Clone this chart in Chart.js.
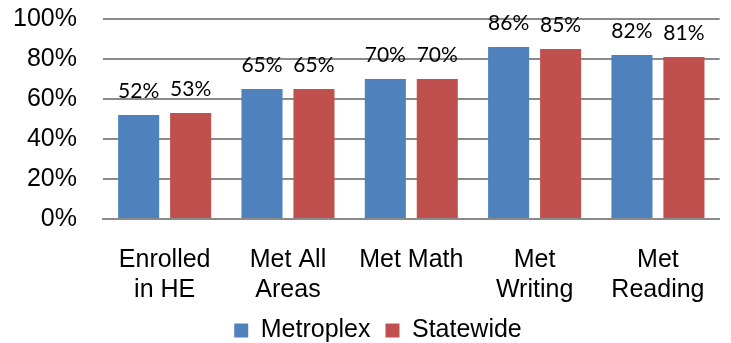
<!DOCTYPE html>
<html>
<head>
<meta charset="utf-8">
<script src="https://cdn.jsdelivr.net/npm/chart.js@4/dist/chart.umd.min.js"></script>
<style>
  html, body { margin: 0; padding: 0; background: #fff; }
  #wrap { width: 731px; height: 343px; }
</style>
</head>
<body>
<div id="wrap"><canvas id="chart" width="731" height="343"></canvas></div>
<script>
// categories and percentages
const categories = [["Enrolled", "in HE"], ["Met All", "Areas"], "Met Math", ["Met", "Writing"], ["Met", "Reading"]];
const metroplex = [52, 65, 70, 86, 82];
const statewide = [53, 65, 70, 85, 81];
const yTicks = [0, 20, 40, 60, 80, 100];

const BLUE = "#4F81BD";
const RED = "#C0504D";
const GRID = "#8a8a8a";
const FONT = "'Liberation Sans', Arial, sans-serif";

// value labels above each bar
const barLabels = {
  id: "barLabels",
  afterDatasetsDraw(chart) {
    const ctx = chart.ctx;
    ctx.save();
    ctx.font = "21px Lato, 'Noto Sans', sans-serif";
    ctx.fillStyle = "#000";
    ctx.textAlign = "center";
    ctx.textBaseline = "alphabetic";
    chart.data.datasets.forEach((ds, i) => {
      chart.getDatasetMeta(i).data.forEach((bar, j) => {
        ctx.fillText(ds.data[j] + "%", bar.x, bar.y - 17);
      });
    });
    ctx.restore();
  }
};

// nudge the legend a little right of the canvas centre
const legendShift = {
  id: "legendShift",
  afterLayout(chart) {
    chart.legend.left += 15;
    chart.legend.right += 15;
  }
};

new Chart(document.getElementById("chart"), {
  type: "bar",
  data: {
    labels: categories,
    datasets: [
      { label: "Metroplex", data: metroplex, backgroundColor: BLUE },
      { label: "Statewide", data: statewide, backgroundColor: RED }
    ]
  },
  options: {
    responsive: false,
    animation: false,
    devicePixelRatio: 1,
    categoryPercentage: 0.843,
    barPercentage: 0.79,
    layout: { padding: { left: 0, right: 5, top: 19, bottom: -10 } },
    plugins: {
      tooltip: { enabled: false },
      legend: {
        position: "bottom",
        labels: {
          color: "#000",
          font: { family: FONT, size: 25 },
          boxWidth: 14,
          boxHeight: 14,
          padding: 15
        }
      }
    },
    scales: {
      x: {
        grid: { display: false, drawTicks: false },
        border: { display: true, color: GRID, width: 2 },
        ticks: {
          color: "#000",
          font: { family: FONT, size: 25, lineHeight: 1.2 },
          padding: 26,
          maxRotation: 0,
          autoSkip: false
        },
        afterFit(scale) { scale.height = 84; }
      },
      y: {
        min: 0,
        max: 100,
        afterBuildTicks(scale) { scale.ticks = yTicks.map(v => ({ value: v })); },
        // invisible tick marks keep the labels clear of the plot
        grid: { color: GRID, lineWidth: 2, drawTicks: true, tickLength: 26, tickColor: "rgba(0,0,0,0)" },
        border: { display: false },
        ticks: {
          color: "#000",
          font: { family: FONT, size: 25 },
          padding: 0,
          callback: v => v + "%"
        },
        afterFit(scale) { scale.width = 103; }
      }
    }
  },
  plugins: [barLabels, legendShift]
});
</script>
</body>
</html>
